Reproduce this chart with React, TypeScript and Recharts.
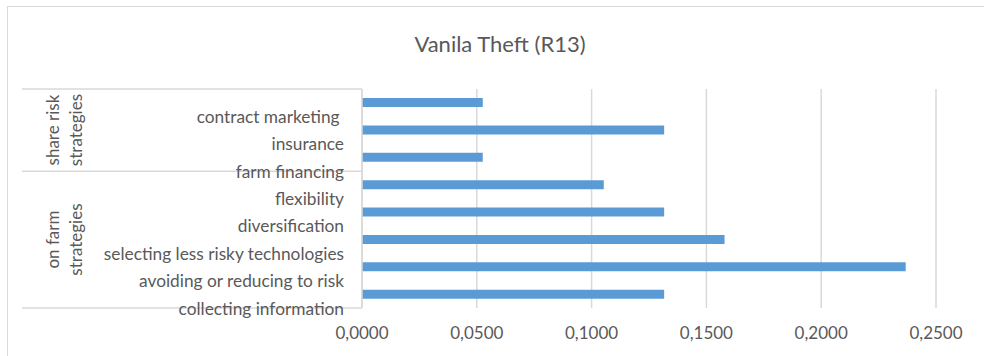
import { BarChart, Bar, XAxis, YAxis, CartesianGrid } from "recharts";

const categories = [
  "contract marketing ",
  "insurance",
  "farm financing",
  "flexibility",
  "diversification",
  "selecting less risky technologies",
  "avoiding or reducing to risk",
  "collecting information",
];
const scores = [0.0526, 0.1316, 0.0526, 0.1053, 0.1316, 0.1579, 0.2368, 0.1316];
const groupNames = [
  ["share risk", "strategies"],
  ["on farm", "strategies"],
];
const groupSizes = [3, 5];
const xTicks = [0, 0.05, 0.1, 0.15, 0.2, 0.25];
const title = "Vanila Theft (R13)";

const W = 984;
const H = 356;
const TOP = 89;
const BOTTOM = 308;
const LEFT = 362;
const RIGHT = 936;
const BAND = (BOTTOM - TOP) / categories.length;

const TEXT = "#595959";
const GRID = "#d9d9d9";
const FONT = "Lato, 'Open Sans', sans-serif";

const data = categories.map((name, i) => ({ name, value: scores[i] }));

const fmt = (v: number) => v.toFixed(4).replace(".", ",");

function XTick({ x, payload }: any) { // eslint-disable-line @typescript-eslint/no-explicit-any
  return (
    <text x={x} y={BOTTOM + 24} textAnchor="middle" dominantBaseline="central" fill={TEXT} fontSize={17} fontFamily={FONT}>
      {fmt(payload.value)}
    </text>
  );
}

// category names sit on the lower edge of their band, Excel-style
function YTick({ y, payload }: any) { // eslint-disable-line @typescript-eslint/no-explicit-any
  return (
    <text
      x={LEFT - 18}
      y={y + BAND / 2}
      textAnchor="end"
      dominantBaseline="central"
      fill={TEXT}
      fontSize={17.3}
      fontFamily={FONT}
      style={{ whiteSpace: "pre" }}
    >
      {payload.value}
    </text>
  );
}

function GroupAxis() {
  let start = TOP;
  const lines = [TOP];
  const labels = groupSizes.map((n, gi) => {
    const end = start + n * BAND;
    const cy = (start + end) / 2;
    start = end;
    lines.push(end);
    return groupNames[gi].map((t, li) => (
      <text
        key={`${gi}-${li}`}
        transform={`translate(${52 + li * 23},${cy}) rotate(-90)`}
        textAnchor="middle"
        dominantBaseline="central"
        fill={TEXT}
        fontSize={17}
        fontFamily={FONT}
      >
        {t}
      </text>
    ));
  });
  return (
    <g>
      {lines.map((y) => (
        <line key={y} x1={22} x2={LEFT} y1={y} y2={y} stroke={GRID} strokeWidth={1.5} />
      ))}
      {labels}
    </g>
  );
}

export default function App() {
  return (
    <div style={{ position: "fixed", left: 0, top: 0, width: W, height: H, background: "#fff", overflow: "hidden" }}>
      <div style={{ position: "absolute", left: 7, top: 6, width: W + 20, height: H + 20, border: `1.5px solid ${GRID}` }} />
      <div style={{ position: "absolute", left: 0, top: 0 }}>
        <BarChart
          width={W}
          height={H}
          data={data}
          layout="vertical"
          margin={{ top: TOP, right: W - RIGHT, bottom: 0, left: 0 }}
        >
          <CartesianGrid horizontal={false} stroke={GRID} strokeWidth={1.5} />
          <XAxis
            type="number"
            domain={[0, 0.25]}
            ticks={xTicks}
            interval={0}
            height={H - BOTTOM}
            axisLine={false}
            tickLine={false}
            tick={<XTick />}
          />
          <YAxis
            type="category"
            dataKey="name"
            width={LEFT}
            axisLine={{ stroke: GRID, strokeWidth: 1.5 }}
            tickLine={false}
            interval={0}
            tick={<YTick />}
          />
          <Bar dataKey="value" fill="#5b9bd5" barSize={9} isAnimationActive={false} />
          <text x={500} y={43} textAnchor="middle" dominantBaseline="central" fill={TEXT} fontSize={22} fontFamily={FONT}>
            {title}
          </text>
          <GroupAxis />
        </BarChart>
      </div>
    </div>
  );
}
